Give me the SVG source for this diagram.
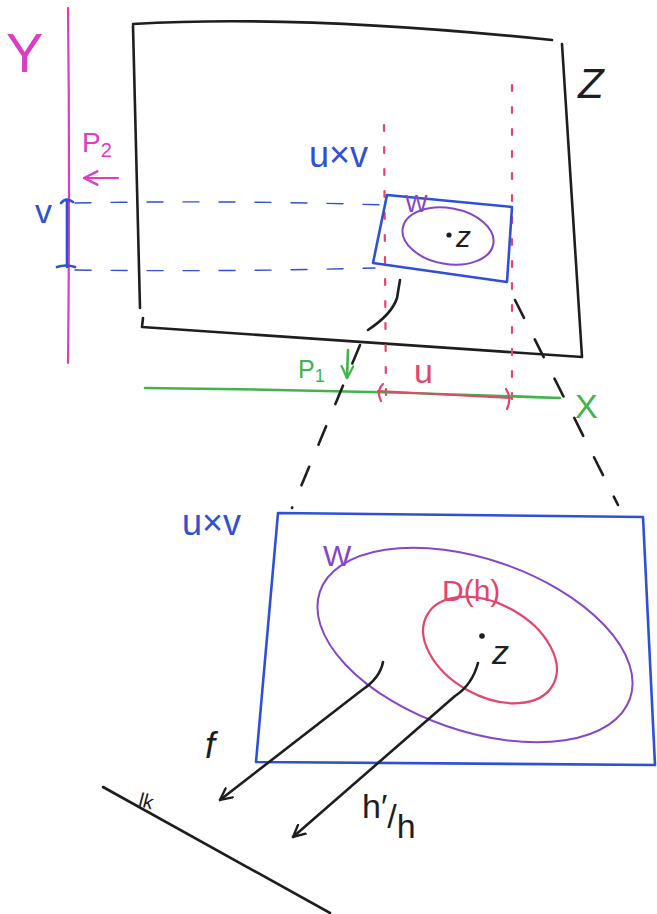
<svg xmlns="http://www.w3.org/2000/svg" width="657" height="914" viewBox="0 0 657 914">
<style>
  .ink{fill:none;stroke-linecap:round;stroke-linejoin:round}
  .k{stroke:#1e1e1e;stroke-width:2.6}
  .b{stroke:#2f4fd6;stroke-width:2.6}
  .m{stroke:#dd3cc4;stroke-width:2.2}
  .g{stroke:#3fb44a;stroke-width:2.6}
  .p{stroke:#8546c9;stroke-width:2}
  .r{stroke:#e3456b;stroke-width:2.2}
  .dash{stroke-dasharray:20 24}
  .rdash{stroke-dasharray:6 16}
  .bdash{stroke-dasharray:16 20;stroke-width:1.4}
  text{font-family:"Liberation Sans","DejaVu Sans",sans-serif}
  .tk{fill:#1e1e1e}.tb{fill:#2f4fd6}.tm{fill:#dd3cc4}.tg{fill:#3fb44a}.tp{fill:#8546c9}.tr{fill:#e3456b}
</style>
<defs>
  <marker id="headK" viewBox="0 0 12 12" refX="11" refY="6" markerWidth="14" markerHeight="14" markerUnits="userSpaceOnUse" orient="auto">
    <path d="M1,1 L11,6 L1,11" fill="none" stroke="#1e1e1e" stroke-width="2" stroke-linecap="round"/>
  </marker>
  <marker id="headM" viewBox="0 0 12 12" refX="11" refY="6" markerWidth="16" markerHeight="16" markerUnits="userSpaceOnUse" orient="auto">
    <path d="M1,1 L11,6 L1,11" fill="none" stroke="#dd3cc4" stroke-width="1.8" stroke-linecap="round"/>
  </marker>
  <marker id="headG" viewBox="0 0 12 12" refX="11" refY="6" markerWidth="14" markerHeight="14" markerUnits="userSpaceOnUse" orient="auto">
    <path d="M1,1 L11,6 L1,11" fill="none" stroke="#3fb44a" stroke-width="2" stroke-linecap="round"/>
  </marker>
</defs>
<rect width="657" height="914" fill="#ffffff"/>

<g id="Y-axis">
  <path class="ink m" d="M68,8 Q70,180 68,363"/>
  <text class="tm" x="6" y="72" font-size="56">Y</text>
</g>

<g id="Z-rect">
  <path class="ink k" d="M133,24 Q300,14 552,40 M562,44 L582,357 L142,327 L143,318 M140,308 L133,26"/>
  <text class="tk" x="578" y="98" font-size="42" font-style="italic">Z</text>
</g>

<g id="V-interval">
  <path class="ink b" d="M67,201 L67,267" stroke-width="4"/>
  <path class="ink b" d="M61,203 Q66,197 73,202 M57,267 Q66,264 75,267"/>
  <text class="tb" x="35" y="223" font-size="34">v</text>
  <path class="ink b bdash" d="M75,203 Q230,200 385,205"/>
  <path class="ink b bdash" d="M75,270 Q230,272 375,268"/>
</g>

<g id="P2">
  <text class="tm" x="82" y="152" font-size="28">P<tspan font-size="20" dy="5">2</tspan></text>
  <path class="ink m" d="M118,178 L84,178" marker-end="url(#headM)"/>
</g>

<g id="UxV-small">
  <text class="tb" x="309" y="167" font-size="36">u×v</text>
  <path class="ink r rdash" d="M384,125 L386,400"/>
  <path class="ink r rdash" d="M512,85 L512,400"/>
  <path class="ink b" d="M387,195 L512,207 L507,282 L373,263 Z" stroke-width="3"/>
  <ellipse class="ink p" cx="448" cy="236" rx="46" ry="28" transform="rotate(10 448 236)" stroke-width="2.4"/>
  <text class="tp" x="405" y="212" font-size="24">W</text>
  <circle cx="449" cy="235" r="2.6" fill="#1e1e1e"/>
  <text class="tk" x="456" y="247" font-size="30" font-style="italic">z</text>
</g>

<g id="X-axis">
  <path class="ink g" d="M145,388 Q350,390 560,398"/>
  <text class="tg" x="575" y="418" font-size="34">X</text>
  <text class="tg" x="298" y="378" font-size="25">P<tspan font-size="18" dy="4">1</tspan></text>
  <path class="ink g" d="M348,350 L347,378" marker-end="url(#headG)"/>
</g>

<g id="U-interval">
  <text class="tr" x="414" y="383" font-size="34">u</text>
  <path class="ink r" d="M378,391 L510,398" stroke-width="3"/>
  <path class="ink r" d="M383,384 Q376,391 381,401 M506,389 Q512,398 507,409"/>
</g>

<g id="UxV-large">
  <text class="tb" x="182" y="535" font-size="36">u×v</text>
  <path class="ink b" d="M278,513 L643,517 L655,765 L256,762 Z"/>
  <ellipse class="ink p" cx="475" cy="645" rx="164" ry="86" transform="rotate(19 475 645)"/>
  <text class="tp" x="323" y="566" font-size="30">W</text>
  <ellipse class="ink r" cx="490" cy="650" rx="72" ry="46" transform="rotate(29 490 650)"/>
  <text class="tr" x="442" y="601" font-size="30">D(h)</text>
  <circle cx="482" cy="636" r="2.8" fill="#1e1e1e"/>
  <text class="tk" x="492" y="664" font-size="34" font-style="italic">z</text>
</g>

<g id="k-line">
  <path class="ink k" d="M103,787 L330,913" stroke-width="2.2"/>
  <text class="tk" x="139" y="809" font-size="20" transform="rotate(15 150 802)">lk</text>
</g>

<g id="labels">
  <text class="tk" x="205" y="758" font-size="36" font-style="italic">f</text>
  <text class="tk" x="362" y="818" font-size="34">h′<tspan dy="10">/</tspan><tspan dy="10">h</tspan></text>
</g>

<g id="connectors">
  <path class="ink k" d="M400,280 L397,298 Q392,314 368,330"/>
  <path class="ink k dash" d="M360,345 L292,508"/>
  <path class="ink k dash" d="M515,300 L618,505"/>
  <path class="ink k" d="M383,662 Q380,678 362,690 L220,800" marker-end="url(#headK)"/>
  <path class="ink k" d="M478,663 Q472,685 455,696 L293,837" marker-end="url(#headK)"/>
</g>
</svg>
